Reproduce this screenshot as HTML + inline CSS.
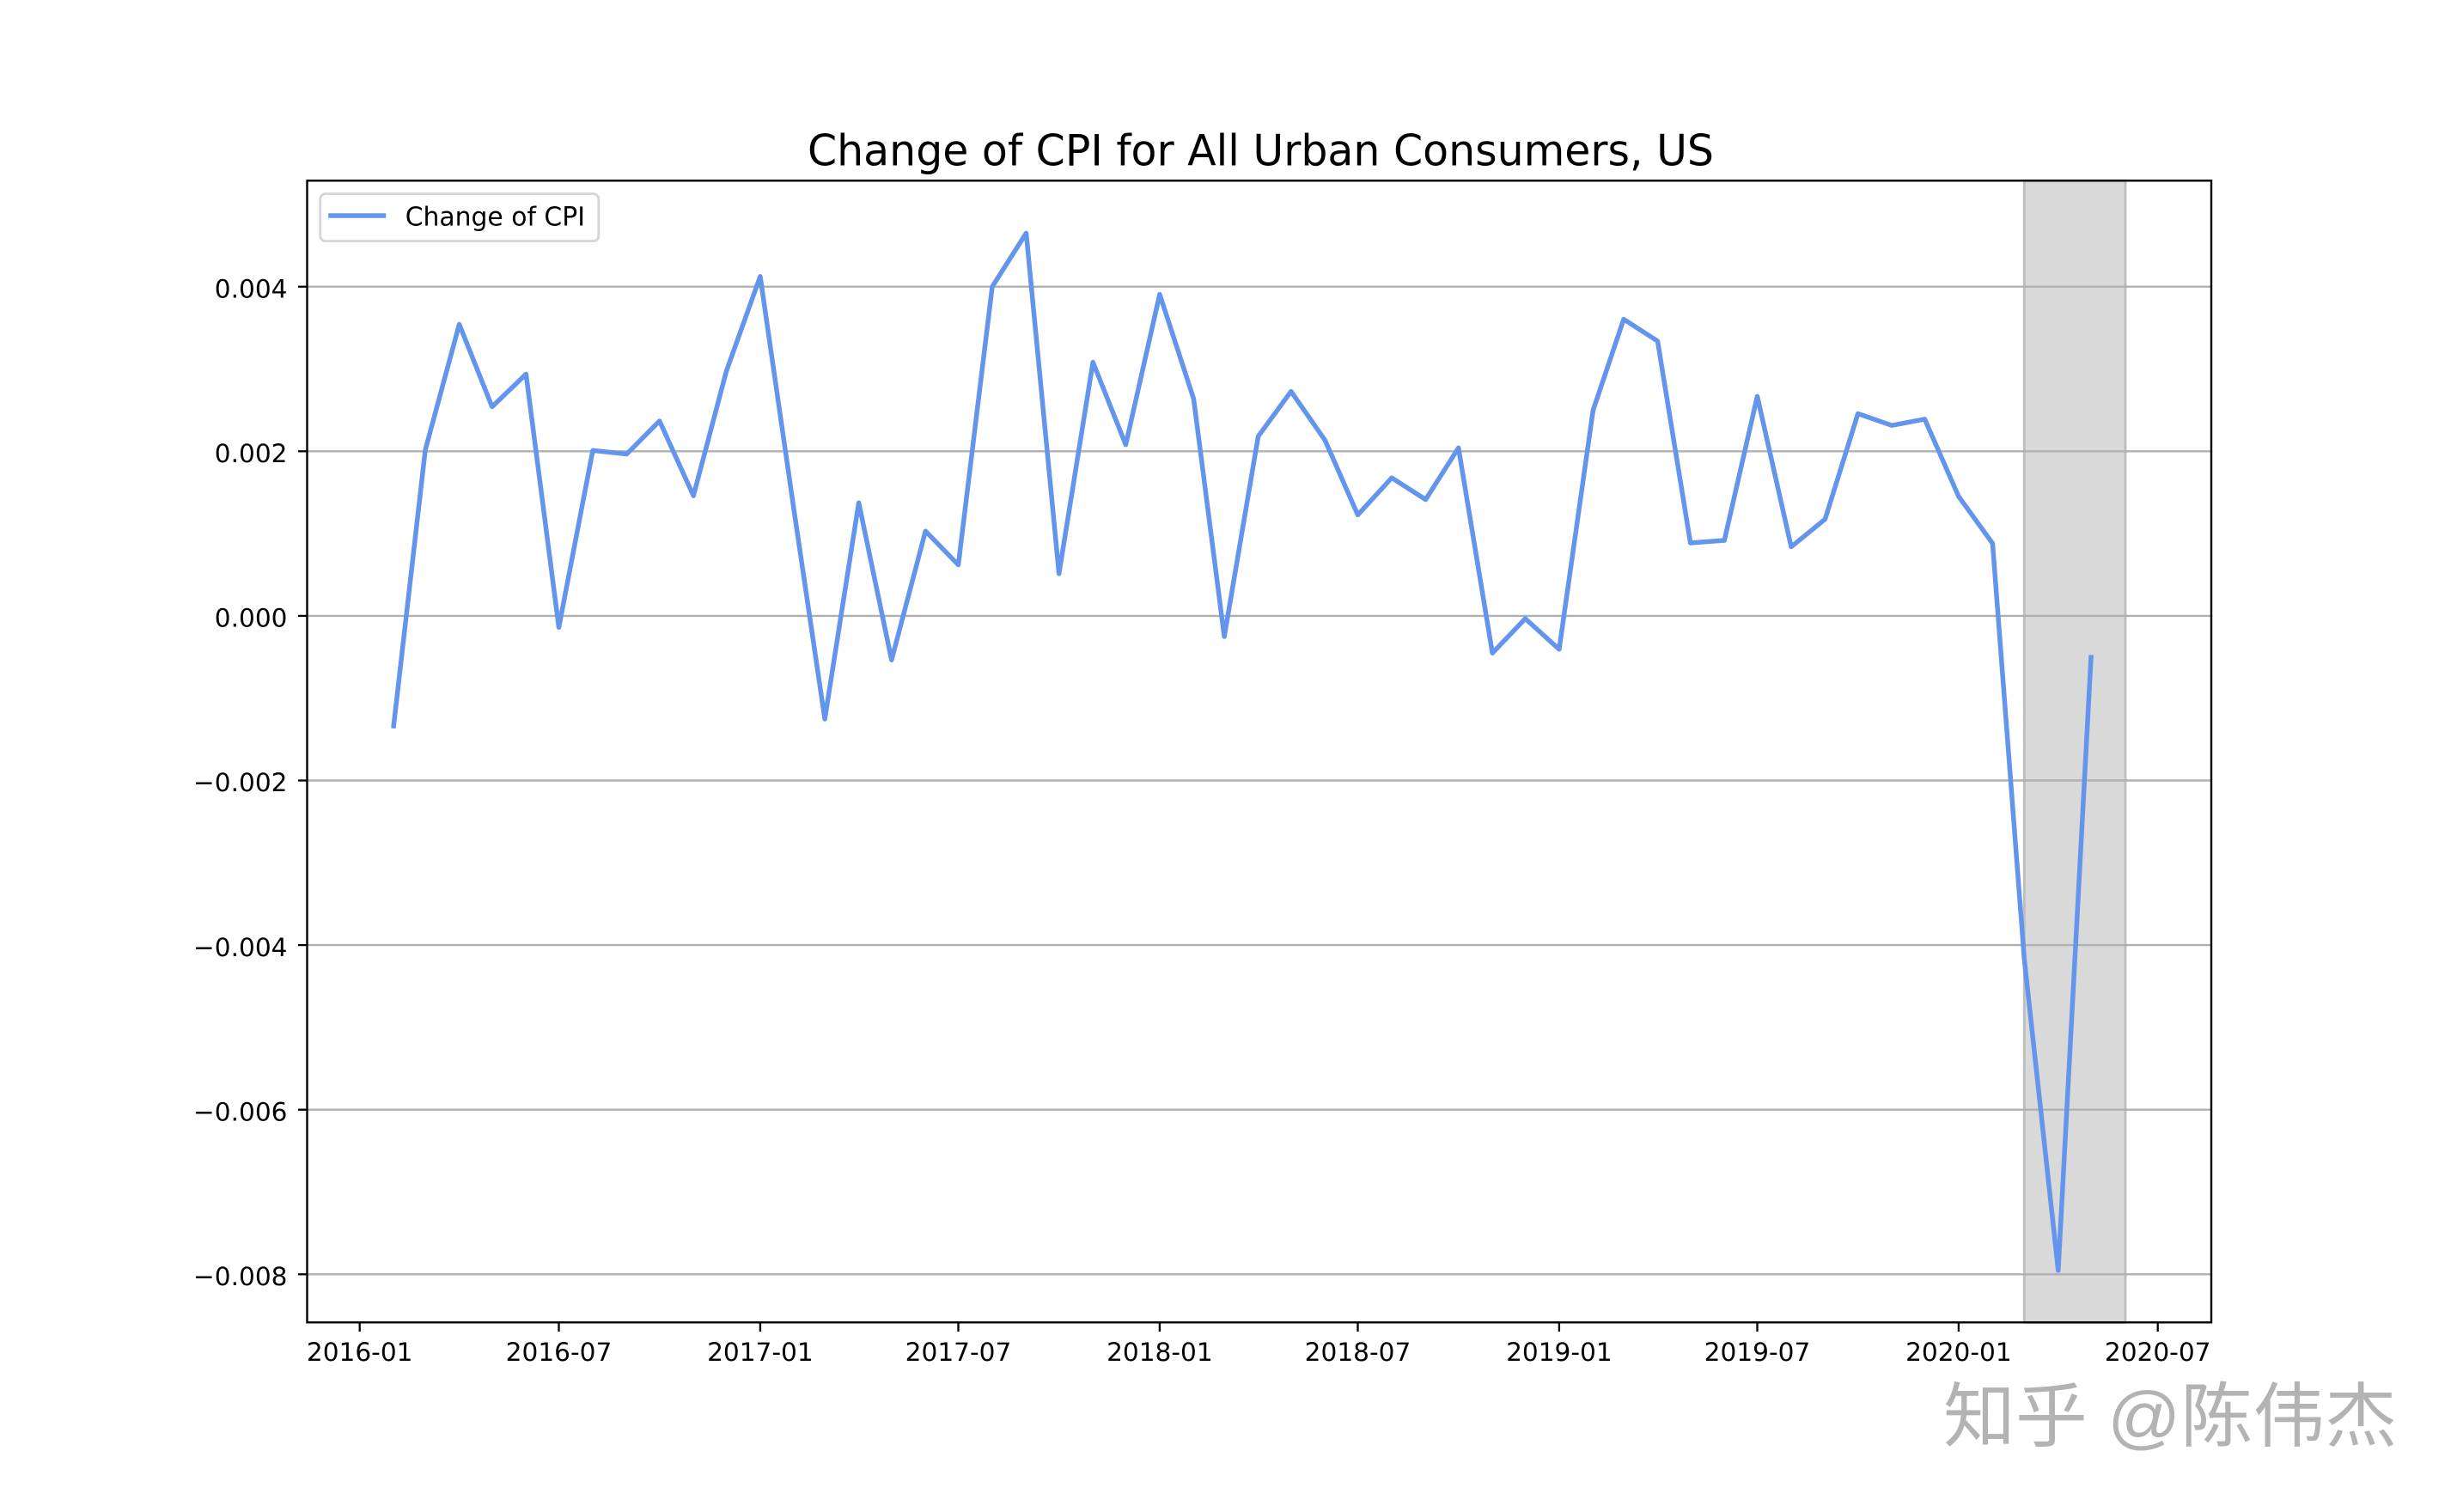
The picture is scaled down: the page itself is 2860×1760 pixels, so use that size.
<!DOCTYPE html>
<html>
<head>
<meta charset="utf-8">
<style>
  html, body { margin: 0; padding: 0; background: #ffffff; }
  body { width: 2860px; height: 1760px; overflow: hidden; }
  svg { display: block; }
  .tk { font-family: "DejaVu Sans", "Liberation Sans", sans-serif; font-size: 29.6px; fill: #000; }
</style>
</head>
<body>
<svg width="2860" height="1760" viewBox="0 0 2860 1760" xmlns="http://www.w3.org/2000/svg">
  <rect x="0" y="0" width="2860" height="1760" fill="#ffffff"/>

  <!-- Title -->
  <text x="940" y="192.5" font-family="DejaVu Sans, Liberation Sans, sans-serif" font-size="50" fill="#000" textLength="1055" lengthAdjust="spacingAndGlyphs">Change of CPI for All Urban Consumers, US</text>

  <!-- Shaded span -->
  <rect x="2356.3" y="210.3" width="117.7" height="1329" fill="#d9d9d9" stroke="#bebebe" stroke-width="2.9"/>

  <!-- Horizontal gridlines -->
  <g stroke="#b0b0b0" stroke-width="2.4">
    <line x1="357.5" y1="333.7" x2="2574" y2="333.7"/>
    <line x1="357.5" y1="525.3" x2="2574" y2="525.3"/>
    <line x1="357.5" y1="716.9" x2="2574" y2="716.9"/>
    <line x1="357.5" y1="908.5" x2="2574" y2="908.5"/>
    <line x1="357.5" y1="1100.1" x2="2574" y2="1100.1"/>
    <line x1="357.5" y1="1291.7" x2="2574" y2="1291.7"/>
    <line x1="357.5" y1="1483.3" x2="2574" y2="1483.3"/>
  </g>

  <!-- Data line -->
  <polyline fill="none" stroke="#6495ED" stroke-width="5.5" stroke-linejoin="round" stroke-linecap="square"
    points="458.2,845.1 495.1,523.5 534.6,377.5 572.8,473.5 612.3,435.5 650.5,730.3 690.0,524.4 729.5,528.5 767.7,490.0 807.2,577.1 845.5,432.0 884.9,321.8 924.4,595.2 960.1,837.0 999.6,585.2 1037.8,768.2 1077.3,618.2 1115.5,657.5 1155.0,333.7 1194.5,271.4 1232.7,667.8 1272.2,421.6 1310.4,517.7 1349.9,342.6 1389.4,464.1 1425.1,741.0 1464.6,507.9 1502.8,455.6 1542.3,512.4 1580.5,599.4 1620.0,556.2 1659.5,581.5 1697.7,521.3 1737.2,760.2 1775.4,720.1 1814.9,755.8 1854.4,477.5 1890.0,371.6 1929.5,397.1 1967.7,632.0 2007.2,629.0 2045.5,461.4 2085.0,636.5 2124.4,604.4 2162.7,481.5 2202.1,495.2 2240.4,487.9 2279.9,577.9 2319.4,632.5 2356.3,1116.2 2395.8,1478.8 2434.0,765.1"/>

  <!-- Axes frame -->
  <rect x="357.5" y="210.3" width="2216.5" height="1329" fill="none" stroke="#000" stroke-width="2.4"/>

  <!-- Y ticks -->
  <g stroke="#000" stroke-width="2.3">
    <line x1="347" y1="333.7" x2="357.5" y2="333.7"/>
    <line x1="347" y1="525.3" x2="357.5" y2="525.3"/>
    <line x1="347" y1="716.9" x2="357.5" y2="716.9"/>
    <line x1="347" y1="908.5" x2="357.5" y2="908.5"/>
    <line x1="347" y1="1100.1" x2="357.5" y2="1100.1"/>
    <line x1="347" y1="1291.7" x2="357.5" y2="1291.7"/>
    <line x1="347" y1="1483.3" x2="357.5" y2="1483.3"/>
  </g>
  <g class="tk" text-anchor="end">
    <text x="334.5" y="346.4">0.004</text>
    <text x="334.5" y="538.0">0.002</text>
    <text x="334.5" y="729.6">0.000</text>
    <text x="334.5" y="921.2">−0.002</text>
    <text x="334.5" y="1112.8">−0.004</text>
    <text x="334.5" y="1304.4">−0.006</text>
    <text x="334.5" y="1496.0">−0.008</text>
  </g>

  <!-- X ticks -->
  <g stroke="#000" stroke-width="2.3">
    <line x1="418.7" y1="1539.3" x2="418.7" y2="1550"/>
    <line x1="650.5" y1="1539.3" x2="650.5" y2="1550"/>
    <line x1="884.9" y1="1539.3" x2="884.9" y2="1550"/>
    <line x1="1115.5" y1="1539.3" x2="1115.5" y2="1550"/>
    <line x1="1349.9" y1="1539.3" x2="1349.9" y2="1550"/>
    <line x1="1580.5" y1="1539.3" x2="1580.5" y2="1550"/>
    <line x1="1814.9" y1="1539.3" x2="1814.9" y2="1550"/>
    <line x1="2045.5" y1="1539.3" x2="2045.5" y2="1550"/>
    <line x1="2279.9" y1="1539.3" x2="2279.9" y2="1550"/>
    <line x1="2511.7" y1="1539.3" x2="2511.7" y2="1550"/>
  </g>
  <g class="tk" text-anchor="middle">
    <text x="418.7" y="1584">2016-01</text>
    <text x="650.5" y="1584">2016-07</text>
    <text x="884.9" y="1584">2017-01</text>
    <text x="1115.5" y="1584">2017-07</text>
    <text x="1349.9" y="1584">2018-01</text>
    <text x="1580.5" y="1584">2018-07</text>
    <text x="1814.9" y="1584">2019-01</text>
    <text x="2045.5" y="1584">2019-07</text>
    <text x="2279.9" y="1584">2020-01</text>
    <text x="2511.7" y="1584">2020-07</text>
  </g>

  <!-- Legend -->
  <rect x="372.8" y="225.6" width="324" height="55" rx="6" ry="6" fill="#ffffff" fill-opacity="0.8" stroke="#d6d6d6" stroke-width="2.9"/>
  <line x1="385" y1="251" x2="446.5" y2="251" stroke="#6495ED" stroke-width="5.5" stroke-linecap="square"/>
  <text x="471.7" y="262.7" font-family="DejaVu Sans, Liberation Sans, sans-serif" font-size="29.8" fill="#000">Change of CPI</text>

  <!-- Watermark -->
  <text x="2262" y="1677" font-family="Liberation Sans, Noto Sans CJK SC, WenQuanYi Zen Hei, sans-serif" font-size="82" fill="#b3b3b3" textLength="528" lengthAdjust="spacingAndGlyphs">知乎 @陈伟杰</text>
</svg>
</body>
</html>
